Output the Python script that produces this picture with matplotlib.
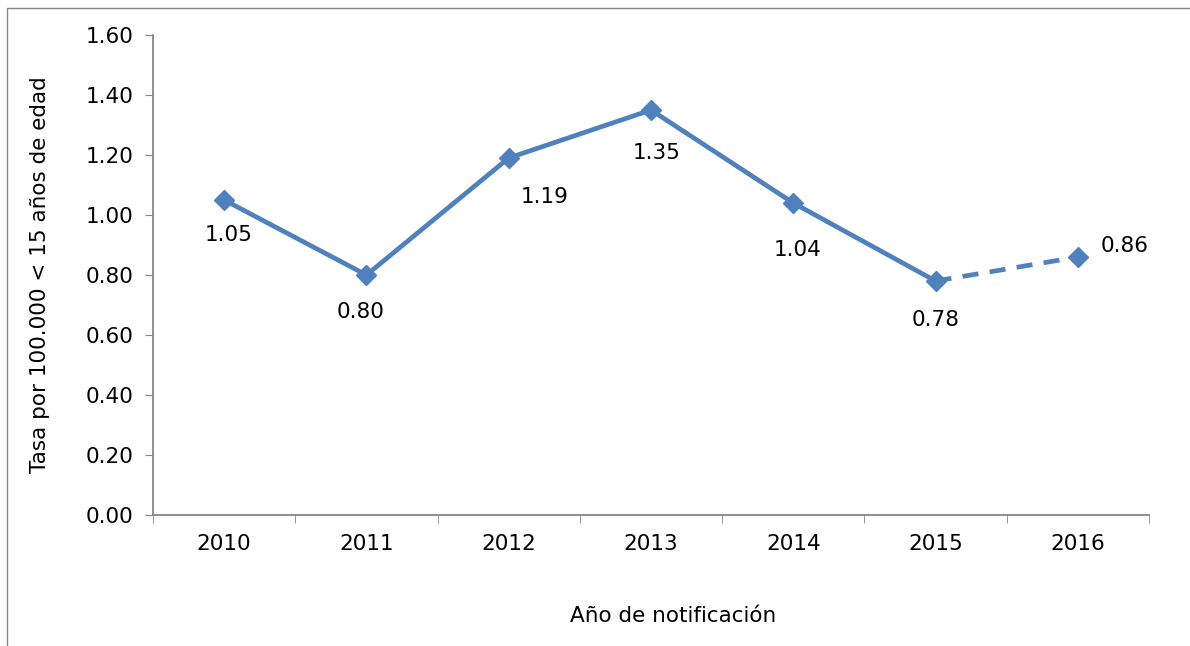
import matplotlib

matplotlib.use("Agg")
import matplotlib.pyplot as plt
from matplotlib.patches import Rectangle
import numpy as np

years = ["2010", "2011", "2012", "2013", "2014", "2015", "2016"]
rates = [1.05, 0.80, 1.19, 1.35, 1.04, 0.78, 0.86]
# label offsets in points (dx, dy) relative to each marker
label_offsets = [(3, -25), (-4, -27), (26, -28), (4, -31), (3, -34), (0, -28), (34, 8)]

BLUE = "#4F81BD"
AXIS = "#868686"
FS = 15.5

fig = plt.figure(figsize=(11.9, 6.46), dpi=100)
fig.patches.append(Rectangle((7 / 1190, -0.1), 1.5, (638 / 646) + 0.1,
                             transform=fig.transFigure, fill=False,
                             edgecolor=AXIS, linewidth=1.0))
ax = fig.add_axes([153 / 1190, 1 - 515 / 646, (1149 - 153) / 1190, (515 - 35) / 646])

x = np.arange(len(years))
ax.plot(x[:-1], rates[:-1], "-", color=BLUE, linewidth=3.4, zorder=3)
ax.plot(x[-2:], rates[-2:], "--", color=BLUE, linewidth=3.4, dashes=(3.4, 2.4), zorder=3)
ax.plot(x, rates, "D", color=BLUE, markersize=10, linestyle="none", zorder=4)

for xi, v, (dx, dy) in zip(x, rates, label_offsets):
    ax.annotate(f"{v:.2f}", xy=(xi, v), xytext=(dx, dy), textcoords="offset points",
                ha="center", va="center", fontsize=FS, color="black")

ax.set_xlim(-0.5, len(years) - 0.5)
ax.set_ylim(0, 1.6)
ax.set_yticks(np.arange(0, 1.61, 0.2))
ax.set_yticklabels([f"{t:.2f}" for t in np.arange(0, 1.61, 0.2)], fontsize=FS)
ax.set_xticks(x)
ax.set_xticklabels(years, fontsize=FS)
ax.set_xticks(np.arange(-0.5, len(years)), minor=True)
ax.tick_params(axis="x", which="major", length=0, pad=14)
ax.tick_params(axis="x", which="minor", length=6, color=AXIS, direction="out")
ax.tick_params(axis="y", length=6, color=AXIS, direction="out", pad=8)

for side in ("top", "right"):
    ax.spines[side].set_visible(False)
for side in ("left", "bottom"):
    ax.spines[side].set_color(AXIS)
    ax.spines[side].set_linewidth(1.3)

ax.set_ylabel("Tasa por 100.000 < 15 años de edad", fontsize=FS, labelpad=26)
ax.set_xlabel("Año de notificación", fontsize=FS)
ax.xaxis.set_label_coords(0.522, -0.19)

fig.savefig("out.png", dpi=100)
